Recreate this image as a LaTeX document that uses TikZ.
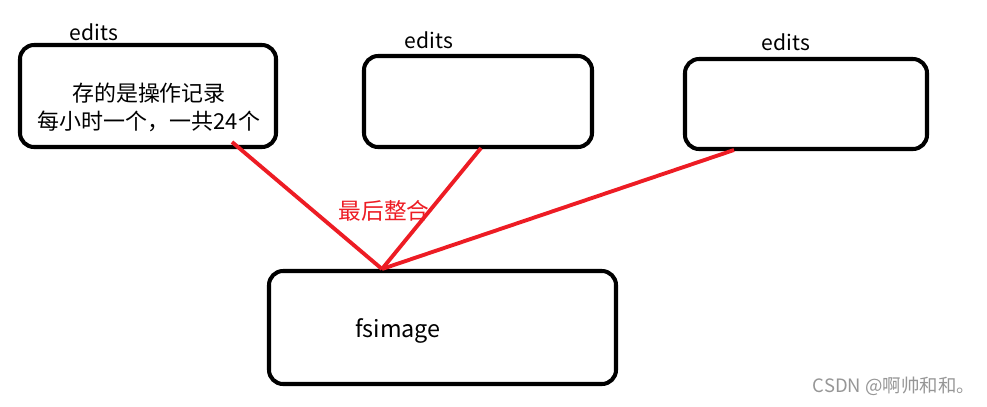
\documentclass[tikz,border=0pt]{standalone}
\usepackage{fontspec}
\setmainfont{Noto Sans CJK SC}
\usepackage{xcolor}
\definecolor{lred}{RGB}{237,28,36}
\definecolor{wmgray}{RGB}{150,150,150}

\begin{document}
\begin{tikzpicture}[x=0.02cm,y=-0.02cm,
box/.style = {draw=black, line width=2.3pt, rounded corners=8pt,
            inner sep=0pt, outer sep=0pt},
lbl/.style = {font=\fontsize{12}{14}\selectfont, inner sep=0pt},
merge/.style = {draw=lred, line width=2.2pt}
                ]
    \useasboundingbox (0,0) rectangle (987,406);
    % edits boxes
    \foreach \x/\y/\w/\h/\e in {148/96/256/102/ea, 478/101.5/228/91/eb, 806/104/242/90/ec}
        \node[box, minimum width=\w*0.02cm, minimum height=\h*0.02cm] at (\x,\y) (\e) {};
    \foreach \x/\y/\e in {94/32/ea, 429/40/eb, 786/42/ec}
        \node[lbl] at (\x,\y) (t\e) {edits};
    \node[lbl, align=center, font=\fontsize{12.5}{15.9}\selectfont] at (149,107) (note) {存的是操作记录\\每小时一个，一共24个};

    % fsimage
    \node[box, minimum width=347*0.02cm, minimum height=113*0.02cm] at (442.5,327.5) (fs) {};
    \node[lbl, font=\fontsize{13.3}{15}\selectfont] at (398,331) (tfs) {fsimage};

    % merge lines
    \coordinate (m) at (382,269);
    \coordinate (pa) at (232,142);
    \coordinate (pb) at (481,148);
    \coordinate (pc) at (734,150);
    \foreach \p in {pa, pb, pc}
        \draw[merge] (\p) -- (m);
    \node[lbl, text=lred, font=\fontsize{12.9}{15}\selectfont] at (384,211) (tm) {最后整合};

    \node[lbl, text=wmgray, font=\fontsize{10.5}{12}\selectfont] at (894,386) (wm) {CSDN @啊帅和和。};
\end{tikzpicture}
\end{document}
